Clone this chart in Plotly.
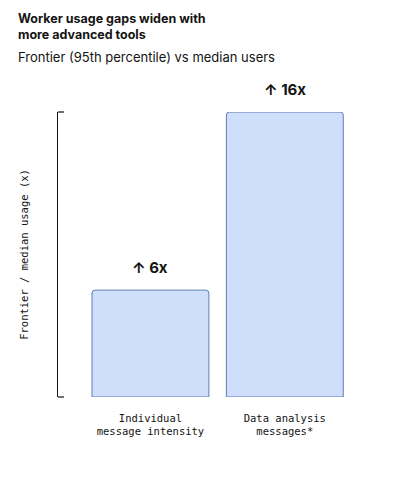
import plotly.graph_objects as go

categories = ["Individual<br>message intensity", "Data analysis<br>messages*"]
ratios = [6, 16]
ratio_labels = ["↑ 6x", "↑ 16x"]

INK = "#141413"
SANS = "Inter, Roboto, sans-serif"
MONO = "DejaVu Sans Mono, monospace"

fig = go.Figure()
fig.add_trace(go.Bar(
    x=[0, 1], y=ratios, width=0.87,
    marker=dict(color="#cfdefa", line=dict(color="#5f7db5", width=1), cornerradius=3),
    hoverinfo="skip",
))

for i, (v, lab) in enumerate(zip(ratios, ratio_labels)):
    fig.add_annotation(x=i, y=v, text="<b>" + lab + "</b>", showarrow=False,
                       yanchor="bottom", yshift=11,
                       font=dict(family=SANS, size=15, color=INK))

# page body adds an 8px margin, so the figure is 8px smaller than the window
fig.update_layout(
    width=405, height=476,
    margin=dict(l=50, r=61, t=104, b=87),
    plot_bgcolor="white", paper_bgcolor="white",
    showlegend=False,
)
fig.add_annotation(text="<b>Worker usage gaps widen with<br>more advanced tools</b>",
                   xref="paper", yref="paper", x=-42 / 294, xanchor="left", align="left",
                   y=1 + 103 / 285, yanchor="top", showarrow=False,
                   font=dict(family=SANS, size=12.5, color=INK))
fig.add_annotation(text="Frontier (95th percentile) vs median users", xref="paper", yref="paper",
                   x=-42 / 294, xanchor="left", y=1 + 55 / 285, yanchor="middle", showarrow=False,
                   font=dict(family=SANS, size=13, color=INK))

# bracket-style y axis
for yy in [0, 1]:
    fig.add_shape(type="line", xref="paper", yref="paper", x0=0, x1=6 / 294, y0=yy, y1=yy,
                  line=dict(color=INK, width=1.2))

fig.update_xaxes(
    range=[-0.688, 1.5], tickvals=[0, 1], ticktext=categories,
    showline=False, showgrid=False, zeroline=False, ticks="", ticklabelstandoff=13,
    tickfont=dict(family=MONO, size=10.5, color=INK),
)
fig.update_yaxes(
    range=[0, 16], showticklabels=False,
    showline=True, linecolor=INK, linewidth=1.2, ticks="",
    showgrid=False, zeroline=False,
    title=dict(text="Frontier / median usage (x)", standoff=26,
               font=dict(family=MONO, size=10.5, color=INK)),
)

fig.write_html("out.html")
